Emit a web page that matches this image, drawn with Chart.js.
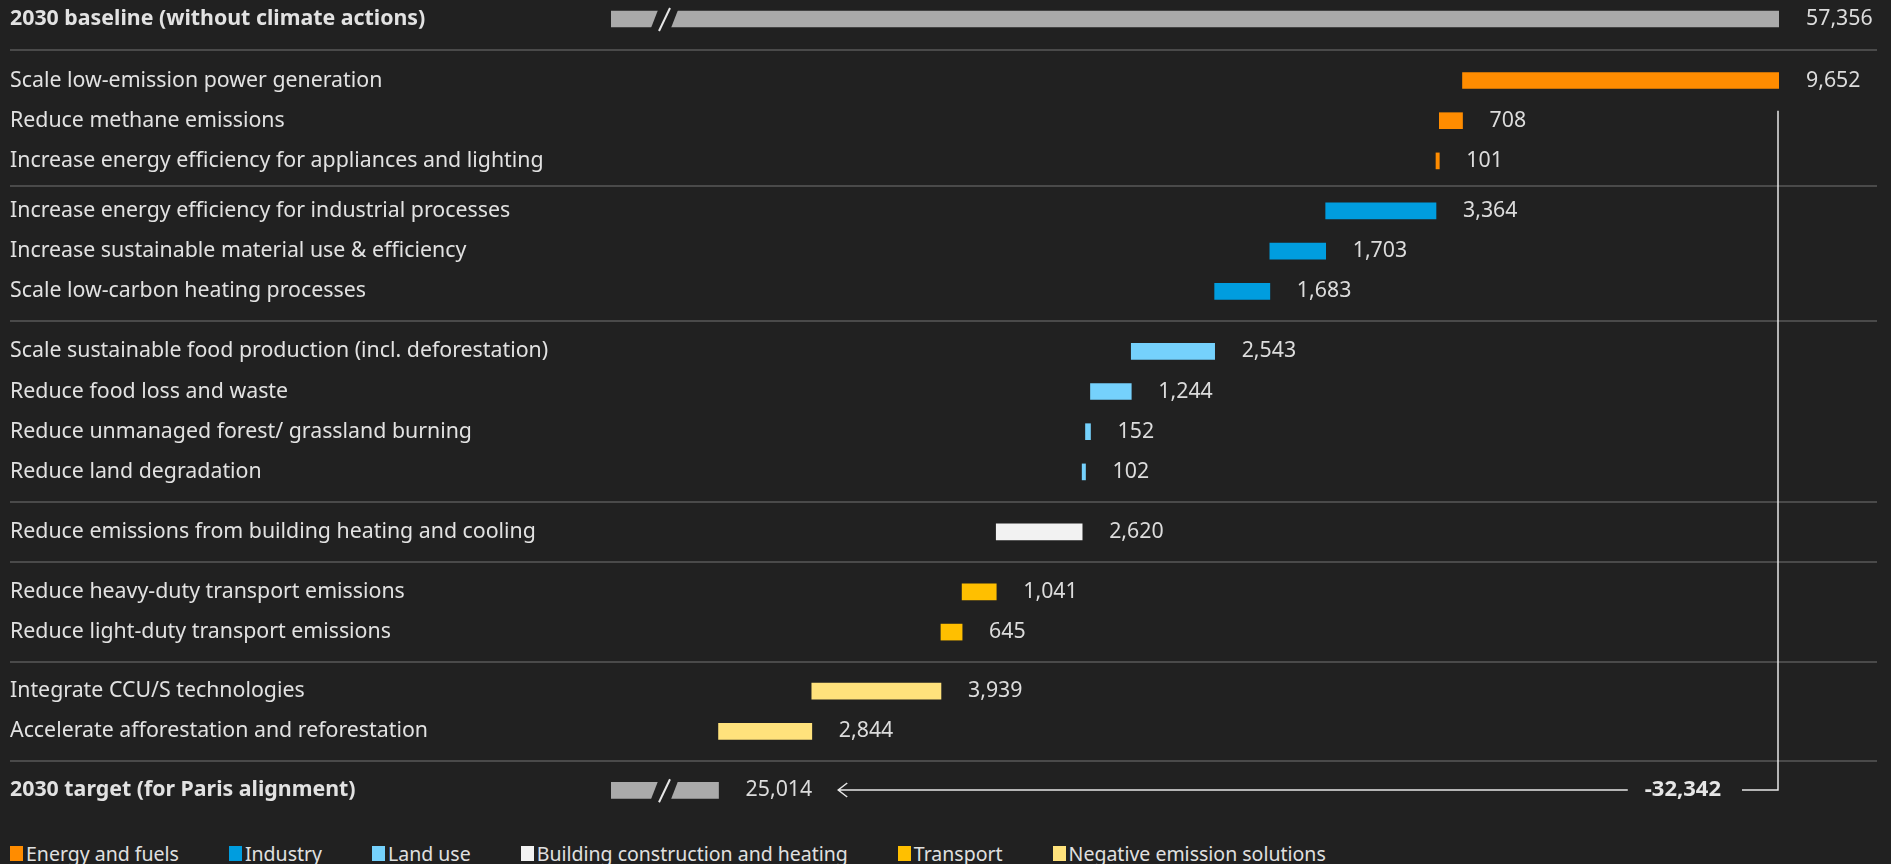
<!DOCTYPE html>
<html><head><meta charset="utf-8">
<script src="https://cdn.jsdelivr.net/npm/chart.js@4.4.1/dist/chart.umd.min.js"></script>
<style>
html,body{margin:0;padding:0;background:#212121;width:1891px;height:864px;overflow:hidden;}
#wrap{position:relative;width:1891px;height:864px;}
canvas{display:block;}
#legend{position:absolute;left:10px;top:838px;height:30px;display:flex;align-items:center;gap:50px;font-family:'Noto Sans',sans-serif;font-size:19.5px;color:#e0e0e0;}
.item{display:flex;align-items:center;white-space:nowrap;}
.sw{width:13px;height:15px;margin-right:3px;flex:none;}
</style></head><body>
<div id="wrap"><canvas id="c" width="1891" height="834"></canvas><div id="legend"></div></div>
<script>
// ---------- DATA ----------
const baselineLabel = '2030 baseline (without climate actions)';
const baselineValue = 57356;
const targetLabel = '2030 target (for Paris alignment)';
const targetValue = 25014;
const gapValue = -32342;

const categories = ['Energy and fuels', 'Industry', 'Land use', 'Building construction and heating', 'Transport', 'Negative emission solutions'];

const actionLabels = [
  'Scale low-emission power generation',
  'Reduce methane emissions',
  'Increase energy efficiency for appliances and lighting',
  'Increase energy efficiency for industrial processes',
  'Increase sustainable material use & efficiency',
  'Scale low-carbon heating processes',
  'Scale sustainable food production (incl. deforestation)',
  'Reduce food loss and waste',
  'Reduce unmanaged forest/ grassland burning',
  'Reduce land degradation',
  'Reduce emissions from building heating and cooling',
  'Reduce heavy-duty transport emissions',
  'Reduce light-duty transport emissions',
  'Integrate CCU/S technologies',
  'Accelerate afforestation and reforestation'
];
const actionValues = [9652, 708, 101, 3364, 1703, 1683, 2543, 1244, 152, 102, 2620, 1041, 645, 3939, 2844];
const actionCategory = [0, 0, 0, 1, 1, 1, 2, 2, 2, 2, 3, 4, 4, 5, 5];

// ---------- STYLE / LAYOUT ----------
const categoryColors = ['#ff8c00', '#009ddf', '#75d1fc', '#f2f2f2', '#ffbf00', '#ffe27c'];
const totalColor = '#aaaaaa';
const BG = '#212121';
const TEXT = '#e2e2e2';
const FONT = "'Noto Sans', sans-serif";
const LABEL_SIZE = 21.33;
const X_MIN = 21735;
const FIRST_ROW = 19;
const ROW_PITCH = 40.2;
const GROUP_GAPS = [61.5, 50, 60, 60, 60, 59, 59];

// ---------- BUILD ----------
const rowLabels = [baselineLabel].concat(actionLabels, [targetLabel]);
const rowY = [FIRST_ROW];
const sepY = [];
let g = 0;
actionLabels.forEach((_, i) => {
  const prev = rowY[rowY.length - 1];
  if (i === 0 || actionCategory[i] !== actionCategory[i - 1]) {
    const y = prev + GROUP_GAPS[g++];
    sepY.push((prev + y) / 2);
    rowY.push(y);
  } else rowY.push(prev + ROW_PITCH);
});
{
  const prev = rowY[rowY.length - 1];
  const y = prev + GROUP_GAPS[g];
  sepY.push((prev + y) / 2);
  rowY.push(y);
}

let cum = baselineValue;
const catData = categories.map(() => []);
actionValues.forEach((v, i) => {
  const start = cum - v;
  catData[actionCategory[i]].push({ y: rowY[i + 1], x: [start, cum], v: v });
  cum = start;
});

const datasets = categories.map((c, ci) => ({
  label: c,
  data: catData[ci],
  backgroundColor: categoryColors[ci],
  barThickness: 16,
  grouped: false,
  borderWidth: 0
}));
datasets.push({
  label: 'Totals',
  data: [
    { y: rowY[0], x: [X_MIN, baselineValue], v: baselineValue, total: true },
    { y: rowY[rowY.length - 1], x: [X_MIN, targetValue], v: targetValue, total: true }
  ],
  backgroundColor: totalColor,
  barThickness: 16,
  grouped: false,
  borderWidth: 0
});

const fmt = v => v.toLocaleString('en-US');

const decor = {
  id: 'decor',
  beforeDatasetsDraw(chart) {
    const ctx = chart.ctx, ys = chart.scales.y;
    ctx.save();
    ctx.strokeStyle = '#585858';
    ctx.lineWidth = 1.5;
    sepY.forEach(s => {
      const y = Math.round(ys.getPixelForValue(s));
      ctx.beginPath(); ctx.moveTo(10, y); ctx.lineTo(1877, y); ctx.stroke();
    });
    ctx.restore();
  },
  afterDatasetsDraw(chart) {
    const ctx = chart.ctx, xs = chart.scales.x, ys = chart.scales.y;
    ctx.save();
    ctx.font = LABEL_SIZE + 'px ' + FONT;
    ctx.fillStyle = '#dcdcdc';
    ctx.textBaseline = 'middle';
    ctx.textAlign = 'left';
    let targetTextEnd = 0;
    chart.data.datasets.forEach((ds, di) => {
      const meta = chart.getDatasetMeta(di);
      meta.data.forEach((el, i) => {
        const d = ds.data[i];
        const right = Math.max(el.x, el.base);
        const left = Math.min(el.x, el.base);
        if (d.total) {
          // axis-break mark
          const top = el.y - 8, bot = el.y + 8;
          ctx.fillStyle = BG;
          ctx.beginPath();
          ctx.moveTo(left + 47, top - 1); ctx.lineTo(left + 67, top - 1);
          ctx.lineTo(left + 60, bot + 1); ctx.lineTo(left + 40, bot + 1);
          ctx.closePath(); ctx.fill();
          ctx.strokeStyle = '#e6e6e6'; ctx.lineWidth = 2;
          ctx.beginPath(); ctx.moveTo(left + 59, top - 3); ctx.lineTo(left + 48, bot + 4); ctx.stroke();
          ctx.fillStyle = '#dcdcdc';
        }
        const tx = right + 27;
        ctx.fillText(fmt(d.v), tx, el.y);
        if (d.total && d.v === targetValue) targetTextEnd = tx + ctx.measureText(fmt(d.v)).width;
      });
    });
    // connector with total change
    const xR = Math.round(xs.getPixelForValue(baselineValue)) - 1;
    const yTop = ys.getPixelForValue(rowY[2]) - 10;
    const yB = Math.round(ys.getPixelForValue(rowY[rowY.length - 1]));
    ctx.strokeStyle = '#e6e6e6';
    ctx.lineWidth = 1.5;
    ctx.beginPath();
    ctx.moveTo(xR, yTop); ctx.lineTo(xR, yB); ctx.lineTo(xR - 36, yB);
    ctx.stroke();
    ctx.font = 'bold 22px ' + FONT;
    ctx.textAlign = 'right';
    ctx.fillStyle = '#e6e6e6';
    const lblRight = xR - 57;
    ctx.fillText(fmt(gapValue), lblRight, yB);
    const lblLeft = lblRight - ctx.measureText(fmt(gapValue)).width;
    const tip = targetTextEnd + 26;
    ctx.beginPath();
    ctx.moveTo(lblLeft - 17, yB); ctx.lineTo(tip, yB);
    ctx.moveTo(tip + 9, yB - 7); ctx.lineTo(tip, yB); ctx.lineTo(tip + 9, yB + 7);
    ctx.stroke();
    ctx.restore();
  }
};

Chart.defaults.font.family = FONT;
new Chart(document.getElementById('c'), {
  type: 'bar',
  data: { datasets },
  options: {
    indexAxis: 'y',
    responsive: false,
    animation: false,
    layout: { padding: { left: 10, right: 112, top: 0, bottom: 0 } },
    plugins: { legend: { display: false }, tooltip: { enabled: false } },
    scales: {
      x: { type: 'linear', min: X_MIN, max: baselineValue, display: false },
      y: {
        type: 'linear', min: 0, max: 834, reverse: true, offset: false,
        grid: { display: false }, border: { display: false },
        afterBuildTicks: s => { s.ticks = rowY.map(v => ({ value: v })); },
        afterFit: s => { s.width = 601; s.paddingTop = 0; s.paddingBottom = 0; },
        ticks: {
          autoSkip: false,
          crossAlign: 'far',
          color: TEXT,
          callback: (v, i) => rowLabels[i],
          font: c => ({ family: FONT, size: LABEL_SIZE, weight: (c.index === 0 || c.index === rowLabels.length - 1) ? 'bold' : 'normal' })
        }
      }
    }
  },
  plugins: [decor]
});

// HTML legend
const lg = document.getElementById('legend');
categories.forEach((c, i) => {
  const it = document.createElement('div'); it.className = 'item';
  const sw = document.createElement('span'); sw.className = 'sw'; sw.style.background = categoryColors[i];
  const t = document.createElement('span'); t.textContent = c;
  it.appendChild(sw); it.appendChild(t); lg.appendChild(it);
});
</script>
</body></html>
